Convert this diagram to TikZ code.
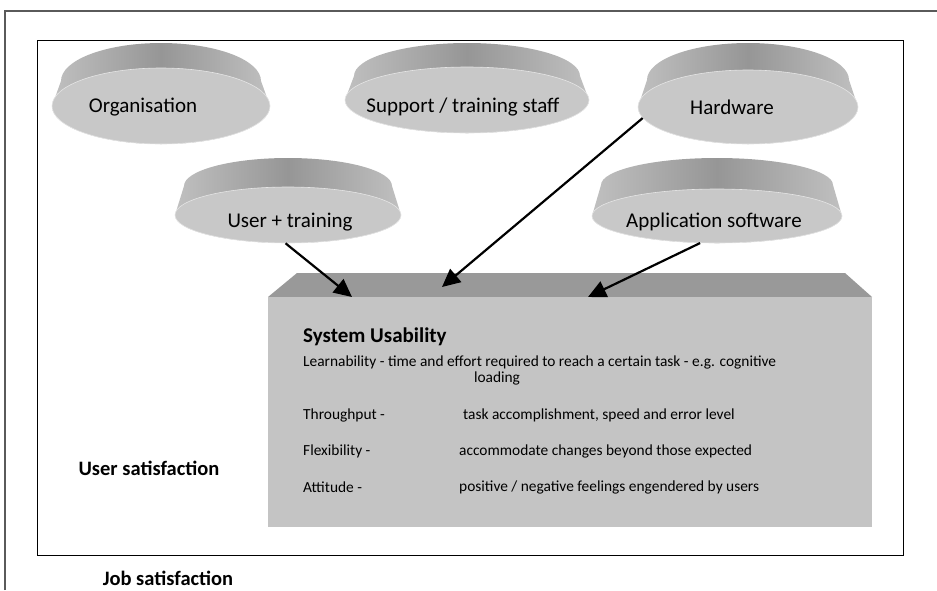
\documentclass[tikz,border=0pt]{standalone}
\usepackage{fontspec}
\setmainfont{Carlito}
\usetikzlibrary{shapes.geometric,arrows.meta}

\definecolor{facegray}{RGB}{200,200,200}
\definecolor{rimdark}{RGB}{150,150,150}
\definecolor{rimlight}{RGB}{192,192,192}
\definecolor{boxfront}{RGB}{196,196,196}
\definecolor{boxtop}{RGB}{153,153,153}
\definecolor{framegray}{RGB}{90,90,90}

% tilted disc: name, centre x, centre y, x radius, y radius, rim height
\newcommand{\disc}[6]{%
  \shade[left color=rimlight, right color=rimlight, middle color=rimdark]
    ({#2-#4+9},{#3-#6}) arc[start angle=180, end angle=360, x radius=#4-9, y radius=#5]
    -- ({#2+#4},#3) arc[start angle=0, end angle=180, x radius=#4, y radius=#5] -- cycle;
  \node[face, minimum width=2*#4, minimum height=2*#5] (#1) at (#2,#3) {};
}

\begin{document}
\begin{tikzpicture}[x=1pt, y=-1pt]
	\tikzstyle{face}=[ellipse, fill=facegray, draw=white!80!gray, line width=0.6pt, inner sep=0pt]
	\tikzstyle{disctext}=[inner sep=0pt, font=\fontsize{21}{25}\selectfont]
	\tikzstyle{head}=[inner sep=0pt, anchor=west, font=\fontsize{21}{25}\selectfont\bfseries]
	\tikzstyle{row}=[inner sep=0pt, anchor=west, font=\fontsize{15.4}{18}\selectfont]
	\tikzstyle{side}=[inner sep=0pt, font=\fontsize{20.5}{24}\selectfont\bfseries]
	\tikzstyle{arr}=[line width=2.2pt, -{Triangle[length=18pt, width=17pt]}]
	
	\useasboundingbox (0,0) rectangle (937,590);
	
	% frames
	\draw[framegray, line width=1.2pt] (5,590) -- (5,11) -- (937,11);
	\draw[line width=1pt] (37,40) rectangle (903,555);
	
	% discs
	\disc{org}{161}{106}{109}{38}{25}
	\disc{supp}{467}{100}{122}{33}{24}
	\disc{hw}{748}{107}{110}{37}{27}
	\disc{user}{288}{215}{113}{28}{29}
	\disc{app}{717}{216}{125}{27}{31}
	
	\node[disctext] (orgtxt) at (143,107) {Organisation};
	\node[disctext] (supptxt) at (463,107) {Support / training staff};
	\node[disctext] (hwtxt) at (732,107) {Hardware};
	\node[disctext] (usertxt) at (290,222) {User + training};
	\node[disctext] (apptxt) at (714,222) {Application software};
	
	% usability box
	\fill[boxtop] (268,297) -- (297,273) -- (845,273) -- (872,297) -- cycle;
	\node[fill=boxfront, minimum width=604pt, minimum height=230pt, inner sep=0pt, anchor=north west] (usab) at (268,297) {};
	
	\node[head] (title) at (303,337) {System Usability};
	\node[row] (learn) at (303,362) {Learnability - time and effort required to reach a certain task - e.g. cognitive};
	\node[row, anchor=center] (loading) at (497,378) {loading};
	\node[row] (thru) at (303,415) {Throughput -};
	\node[row] (thrutxt) at (463,415) {task accomplishment, speed and error level};
	\node[row] (flex) at (303,451) {Flexibility -};
	\node[row] (flextxt) at (459,451) {accommodate changes beyond those expected};
	\node[row] (att) at (303,487) {Attitude -};
	\node[row] (atttxt) at (459,487) {positive / negative feelings engendered by users};
	
	\coordinate (inuser) at (352,297);
	\coordinate (inhw) at (442,287);
	\coordinate (inapp) at (588,297);
	
	\draw[arr] (user.265) -- (inuser);
	\draw[arr] (hw.186) -- (inhw);
	\draw[arr] (app.-122) -- (inapp);
	
	\node[side] (usersat) at (149,468) {User satisfaction};
	\node[side] (jobsat) at (168,578) {Job satisfaction};
\end{tikzpicture}
\end{document}
